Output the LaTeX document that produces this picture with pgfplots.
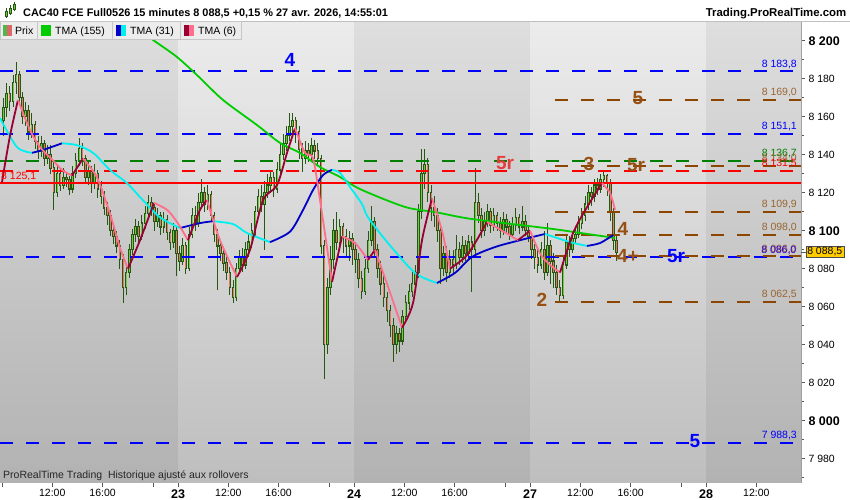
\documentclass[border=0pt]{standalone}
\usepackage{fontspec}
\setmainfont{Liberation Sans}
\usepackage{pgfplots}
\usepackage{pgfplotstable}
\pgfplotsset{compat=1.18}
\definecolor{cdk}{RGB}{38,88,20}
\definecolor{cup}{RGB}{110,205,60}
\definecolor{cdn}{RGB}{232,120,100}
\definecolor{tgreen}{RGB}{0,204,0}
\definecolor{tblue}{RGB}{0,0,200}
\definecolor{tcyan}{RGB}{0,240,240}
\definecolor{tdred}{RGB}{153,0,51}
\definecolor{tpink}{RGB}{255,110,140}
\definecolor{lblue}{RGB}{0,0,255}
\definecolor{lred}{RGB}{255,0,0}
\definecolor{lgreen}{RGB}{0,128,0}
\definecolor{lbrown}{RGB}{140,70,0}
\definecolor{tbrown}{RGB}{153,102,51}
\definecolor{bbrown}{RGB}{150,80,20}
\definecolor{bred}{RGB}{230,60,60}
\definecolor{bgdT}{RGB}{222,222,222}
\definecolor{bgdB}{RGB}{178,178,178}
\definecolor{bglT}{RGB}{236,236,236}
\definecolor{bglB}{RGB}{190,190,190}
\definecolor{pxg}{RGB}{76,184,76}
\definecolor{pxr}{RGB}{224,102,102}
\definecolor{ybox}{RGB}{255,204,0}
\newcommand\dl[1]{{\fontsize{12.5bp}{14bp}\selectfont\bfseries #1}}
\newcommand\bl[1]{{\fontsize{12.5bp}{14bp}\selectfont\bfseries #1}}
\pgfplotstableread{
i o h l c
0 8158 8170 8150 8165
1 8165 8178 8160 8172
2 8172 8176 8163 8168
3 8168 8182 8165 8178
4 8178 8189 8172 8182
5 8182 8184 8166 8170
6 8170 8173 8156 8160
7 8160 8168 8155 8163
8 8163 8166 8148 8152
9 8152 8162 8149 8156
10 8156 8158 8143 8147
11 8147 8150 8138 8142
12 8142 8150 8139 8146
13 8146 8148 8134 8138
14 8138 8145 8135 8140
15 8140 8145 8130 8133
16 8133 8136 8111 8120
17 8120 8134 8118 8130
18 8130 8133 8121 8124
19 8124 8133 8122 8128
20 8128 8131 8123 8127
21 8127 8129 8119 8122
22 8122 8134 8120 8130
23 8130 8141 8128 8137
24 8137 8149 8134 8143
25 8143 8146 8134 8138
26 8138 8140 8125 8128
27 8128 8136 8124 8131
28 8131 8134 8120 8125
29 8125 8135 8122 8130
30 8130 8132 8117 8122
31 8122 8126 8114 8118
32 8118 8121 8108 8112
33 8112 8115 8103 8108
34 8108 8111 8097 8100
35 8100 8104 8093 8097
36 8097 8100 8088 8092
37 8092 8095 8080 8085
38 8085 8088 8062 8070
39 8070 8083 8066 8078
40 8078 8093 8075 8090
41 8090 8101 8087 8098
42 8098 8106 8094 8102
43 8102 8105 8093 8097
44 8097 8108 8095 8104
45 8104 8113 8101 8109
46 8109 8119 8106 8115
47 8115 8118 8108 8112
48 8112 8114 8100 8105
49 8105 8112 8102 8108
50 8108 8110 8098 8102
51 8102 8110 8099 8106
52 8106 8108 8095 8099
53 8099 8101 8090 8094
54 8094 8104 8091 8100
55 8100 8102 8076 8088
56 8088 8092 8079 8084
57 8084 8096 8082 8092
58 8092 8094 8077 8080
59 8080 8102 8079 8098
60 8098 8112 8096 8108
61 8108 8113 8100 8104
62 8104 8120 8102 8115
63 8115 8127 8112 8120
64 8120 8123 8110 8114
65 8114 8124 8111 8119
66 8119 8121 8105 8108
67 8108 8110 8094 8098
68 8098 8101 8069 8092
69 8092 8095 8084 8088
70 8088 8091 8079 8083
71 8083 8087 8074 8078
72 8078 8081 8066 8070
73 8070 8074 8062 8065
74 8065 8083 8063 8080
75 8080 8090 8077 8086
76 8086 8091 8078 8082
77 8082 8094 8080 8090
78 8090 8098 8086 8094
79 8094 8104 8091 8100
80 8100 8113 8097 8110
81 8110 8122 8107 8118
82 8118 8124 8110 8114
83 8114 8126 8090 8120
84 8120 8130 8117 8124
85 8124 8132 8120 8128
86 8128 8131 8118 8122
87 8122 8136 8120 8132
88 8132 8146 8129 8140
89 8140 8151 8137 8146
90 8146 8155 8142 8150
91 8150 8162 8147 8155
92 8155 8162 8150 8158
93 8158 8160 8146 8152
94 8152 8155 8138 8143
95 8143 8146 8131 8138
96 8138 8147 8135 8142
97 8142 8146 8136 8140
98 8140 8149 8137 8145
99 8145 8148 8138 8142
100 8142 8146 8134 8138
101 8138 8140 8088 8092
102 8092 8095 8022 8040
103 8040 8075 8035 8070
104 8070 8092 8066 8085
105 8085 8106 8080 8100
106 8100 8110 8090 8094
107 8094 8106 8090 8102
108 8102 8104 8088 8097
109 8097 8101 8086 8092
110 8092 8100 8084 8096
111 8096 8099 8082 8090
112 8090 8094 8078 8085
113 8085 8088 8070 8075
114 8075 8079 8064 8068
115 8068 8085 8066 8080
116 8080 8100 8078 8095
117 8095 8113 8092 8105
118 8105 8107 8086 8090
119 8090 8093 8075 8080
120 8080 8084 8066 8072
121 8072 8076 8060 8065
122 8065 8068 8052 8058
123 8058 8061 8044 8050
124 8050 8054 8031 8040
125 8040 8050 8035 8046
126 8046 8049 8036 8042
127 8042 8058 8040 8055
128 8055 8066 8052 8062
129 8062 8072 8058 8068
130 8068 8078 8065 8072
131 8072 8082 8069 8078
132 8078 8114 8075 8110
133 8110 8143 8106 8130
134 8130 8143 8122 8135
135 8135 8138 8115 8120
136 8120 8124 8105 8112
137 8112 8118 8102 8108
138 8108 8112 8094 8100
139 8100 8102 8072 8080
140 8080 8092 8076 8088
141 8088 8092 8073 8078
142 8078 8090 8075 8085
143 8085 8090 8078 8082
144 8082 8098 8080 8090
145 8090 8094 8082 8086
146 8086 8097 8083 8092
147 8092 8095 8084 8088
148 8088 8098 8085 8094
149 8094 8097 8068 8090
150 8090 8133 8088 8115
151 8115 8120 8104 8108
152 8108 8112 8096 8100
153 8100 8110 8097 8105
154 8105 8114 8102 8110
155 8110 8112 8099 8103
156 8103 8112 8100 8108
157 8108 8110 8100 8104
158 8104 8107 8096 8100
159 8100 8110 8098 8106
160 8106 8109 8099 8102
161 8102 8105 8095 8098
162 8098 8107 8096 8103
163 8103 8112 8100 8107
164 8107 8109 8098 8102
165 8102 8113 8100 8105
166 8105 8108 8097 8100
167 8100 8103 8094 8097
168 8097 8098 8085 8090
169 8090 8093 8080 8086
170 8086 8090 8078 8082
171 8082 8094 8080 8090
172 8090 8100 8074 8078
173 8078 8104 8076 8092
174 8092 8095 8072 8084
175 8084 8088 8070 8078
176 8078 8082 8066 8070
177 8070 8074 8062.5 8066
178 8066 8086 8064 8082
179 8082 8098 8080 8094
180 8094 8097 8086 8090
181 8090 8100 8088 8096
182 8096 8102 8093 8098
183 8098 8108 8096 8104
184 8104 8112 8101 8108
185 8108 8118 8105 8114
186 8114 8124 8111 8120
187 8120 8123 8113 8118
188 8118 8127 8115 8124
189 8124 8128 8119 8122
190 8122 8130 8120 8127
191 8127 8131 8123 8129
192 8129 8130 8118 8125
193 8125 8127 8105 8110
194 8110 8112 8090 8095
195 8095 8098 8084 8088.5
}\candles
\begin{document}
\begin{tikzpicture}
\path[use as bounding box] (0,0) rectangle (850bp,500bp);
\fill[white] (0,0) rectangle (850bp,500bp);
\begin{axis}[
  at={(0bp,17.3bp)}, anchor=south west, scale only axis,
  width=801bp, height=461.7bp,
  xmin=-0.636, xmax=254.2, ymin=7967.37, ymax=8210.37,
  axis line style={draw=gray!60, line width=0.6bp},
  tick align=outside,
  xtick pos=bottom, ytick pos=right, yticklabel pos=right,
  xtick={0,16,32,48,56,72,88,104,112,128,144,160,168,184,200,216,224,240},
  xticklabels={,12:00,16:00,,\dl{23},12:00,16:00,,\dl{24},12:00,16:00,,\dl{27},12:00,16:00,,\dl{28},12:00},
  ytick={7980,8000,8020,8040,8060,8080,8100,8120,8140,8160,8180,8200},
  yticklabels={7 980,\bl{8 000},8 020,8 040,8 060,8 080,\bl{8 100},8 120,8 140,8 160,8 180,\bl{8 200}},
  minor ytick={7970,7990,8010,8030,8050,8070,8090,8110,8130,8150,8170,8190,8210},
  major tick length=4bp, minor tick length=3bp,
  tick style={draw=gray!70!black, line width=0.6bp},
  ticklabel style={font=\fontsize{10.5bp}{12bp}\selectfont, text=black},
  xticklabel style={inner ysep=1bp, yshift=-1.5bp},
]
% day bands
\fill[top color=bgdT, bottom color=bgdB] (axis cs:-1,7967.37) rectangle (axis cs:56,8210.37);
\fill[top color=bglT, bottom color=bglB] (axis cs:56,7967.37) rectangle (axis cs:112,8210.37);
\fill[top color=bgdT, bottom color=bgdB] (axis cs:112,7967.37) rectangle (axis cs:168,8210.37);
\fill[top color=bglT, bottom color=bglB] (axis cs:168,7967.37) rectangle (axis cs:224,8210.37);
\fill[top color=bgdT, bottom color=bgdB] (axis cs:224,7967.37) rectangle (axis cs:255,8210.37);
% candles: wicks
\addplot[forget plot, draw=none, mark=none, error bars/.cd, y dir=both, y explicit, error mark=none,
  error bar style={draw=cdk, line width=0.9bp, solid}]
  table[x expr=\thisrow{i}+0.5, y expr=0.5*(\thisrow{h}+\thisrow{l}), y error expr=0.5*(\thisrow{h}-\thisrow{l})]{\candles};
% bodies outline
\addplot[forget plot, draw=none, mark=none, error bars/.cd, y dir=both, y explicit, error mark=none,
  error bar style={draw=cdk, line width=2.6bp, solid}]
  table[x expr=\thisrow{i}+0.5, y expr=0.5*(\thisrow{o}+\thisrow{c}), y error expr=0.5*abs(\thisrow{c}-\thisrow{o})+0.35]{\candles};
% bodies fill up
\addplot[forget plot, draw=none, mark=none, restrict expr to domain={\thisrow{c}-\thisrow{o}}{0:1000},
  error bars/.cd, y dir=both, y explicit, error mark=none,
  error bar style={draw=cup, line width=1.0bp, solid}]
  table[x expr=\thisrow{i}+0.5, y expr=0.5*(\thisrow{o}+\thisrow{c}), y error expr={max(0.5*abs(\thisrow{c}-\thisrow{o})-0.25,0)}]{\candles};
% bodies fill down
\addplot[forget plot, draw=none, mark=none, restrict expr to domain={\thisrow{o}-\thisrow{c}}{0.001:1000},
  error bars/.cd, y dir=both, y explicit, error mark=none,
  error bar style={draw=cdn, line width=1.0bp, solid}]
  table[x expr=\thisrow{i}+0.5, y expr=0.5*(\thisrow{o}+\thisrow{c}), y error expr={max(0.5*abs(\thisrow{c}-\thisrow{o})-0.25,0)}]{\candles};
% horizontal levels
\pgfplotsset{lev/.style={line width=2bp, dash pattern=on 13bp off 13bp, forget plot}}
\addplot[lev, lblue] coordinates {(-0.636,8183.8) (254.2,8183.8)};
\addplot[lev, lblue] coordinates {(-0.636,8151.1) (254.2,8151.1)};
\addplot[lev, lgreen] coordinates {(-0.636,8136.7) (254.2,8136.7)};
\addplot[lev, lred] coordinates {(-0.636,8131.5) (254.2,8131.5)};
\addplot[lev, lblue] coordinates {(-0.636,8086.0) (254.2,8086.0)};
\addplot[lev, lblue] coordinates {(-0.636,7988.3) (254.2,7988.3)};
\addplot[lev, lbrown] coordinates {(175.9,8169.0) (254.2,8169.0)};
\addplot[lev, lbrown] coordinates {(175.9,8134.0) (254.2,8134.0)};
\addplot[lev, lbrown] coordinates {(175.9,8109.9) (254.2,8109.9)};
\addplot[lev, lbrown] coordinates {(175.9,8098.0) (254.2,8098.0)};
\addplot[lev, lbrown] coordinates {(175.9,8086.6) (254.2,8086.6)};
\addplot[lev, lbrown] coordinates {(175.9,8062.5) (254.2,8062.5)};
\addplot[forget plot, lred, line width=2bp] coordinates {(-0.636,8125.1) (254.2,8125.1)};
% TMA 155
\pgfplotsset{ma/.style={line width=1.8bp, smooth, tension=0.5, forget plot}}
\addplot[ma, tgreen] coordinates {(43.9,8205.6) (48.04,8200.4) (55.68,8191.4) (63,8180.4) (70.32,8168.8) (81.13,8155.6) (88.45,8146.2) (94.81,8140.9) (101.18,8133.5) (107.54,8128.3) (113.9,8121.9) (128.22,8112.5) (137.77,8109.8) (147.31,8106.7) (156.86,8104.6) (164.81,8103.0) (175.31,8100.9) (186.13,8098.3) (195.04,8096.2)};
% TMA 31
\addplot[ma, tcyan] coordinates {(-0.64,8159.3) (4.77,8144) (9.55,8141)};
\addplot[ma, tblue] coordinates {(9.55,8141) (13.04,8142.5) (19.09,8146)};
\addplot[ma, tcyan] coordinates {(19.09,8146) (23.86,8145) (28.95,8141) (34.36,8132) (39.77,8125) (44.86,8116) (50.27,8107) (56.63,8101.4)};
\addplot[ma, tblue] coordinates {(56.63,8101.4) (63,8104) (67.13,8105)};
\addplot[ma, tcyan] coordinates {(67.13,8105) (73.5,8103.5) (77.95,8098.8) (85.27,8094)};
\addplot[ma, tblue] coordinates {(85.27,8094) (91.63,8099.5) (95.77,8110.9) (98.95,8121.4) (102.13,8129.3) (105,8132)};
\addplot[ma, tcyan] coordinates {(105,8132) (107.54,8130.4) (110.72,8123) (114.54,8114) (116.45,8107) (122.81,8093.5) (131.4,8077.8) (138.4,8072.5)};
\addplot[ma, tblue] coordinates {(138.4,8072.5) (144.13,8077.8) (149.54,8086.2) (156.86,8091.4) (164.81,8095) (172.77,8098.3)};
\addplot[ma, tcyan] coordinates {(172.77,8098.3) (180.72,8094) (186.13,8092)};
\addplot[ma, tblue] coordinates {(186.13,8092) (190.26,8093.5) (194.4,8097.7)};
% TMA 6
\addplot[ma, tdred] coordinates {(0,8125.6) (2.55,8150) (5.09,8168.8)};
\addplot[ma, tpink] coordinates {(5.09,8168.8) (8.91,8153) (12.09,8144) (16.23,8137) (19.09,8132) (22.27,8129)};
\addplot[ma, tdred] coordinates {(22.27,8129) (25.77,8138)};
\addplot[ma, tpink] coordinates {(25.77,8138) (30.23,8128) (34.36,8109) (37.54,8091) (40.09,8080)};
\addplot[ma, tdred] coordinates {(40.09,8080) (43.91,8095) (48.36,8114.6)};
\addplot[ma, tpink] coordinates {(48.36,8114.6) (52.5,8111) (55.68,8104.6) (59.18,8095)};
\addplot[ma, tdred] coordinates {(59.18,8095) (63,8111) (65.22,8116)};
\addplot[ma, tpink] coordinates {(65.22,8116) (69.36,8095) (74.77,8075.6)};
\addplot[ma, tdred] coordinates {(74.77,8075.6) (78.91,8090) (83.04,8116) (87.5,8124) (90.68,8141) (93.22,8154)};
\addplot[ma, tpink] coordinates {(93.22,8154) (96.4,8141) (98.95,8138) (101.18,8116) (105,8073)};
\addplot[ma, tdred] coordinates {(105,8073) (108.18,8097)};
\addplot[ma, tpink] coordinates {(108.18,8097) (112.31,8093.5) (116.45,8084.6)};
\addplot[ma, tdred] coordinates {(116.45,8084.6) (118.68,8090)};
\addplot[ma, tpink] coordinates {(118.68,8090) (122.81,8070.5) (127.27,8049)};
\addplot[ma, tdred] coordinates {(127.27,8049) (130.77,8062) (133.63,8095) (136.81,8117)};
\addplot[ma, tpink] coordinates {(136.81,8117) (139.99,8100) (142.54,8080)};
\addplot[ma, tdred] coordinates {(142.54,8080) (147.31,8086) (150.49,8093.5) (154.31,8104.6)};
\addplot[ma, tpink] coordinates {(154.31,8104.6) (159.08,8100) (164.17,8095)};
\addplot[ma, tdred] coordinates {(164.17,8095) (168,8100)};
\addplot[ma, tpink] coordinates {(168,8100) (171.18,8088) (174.36,8082) (177.54,8078)};
\addplot[ma, tdred] coordinates {(177.54,8078) (181.67,8098.7) (186.13,8112.4) (190.9,8125)};
\addplot[ma, tpink] coordinates {(190.9,8125) (193.45,8119.8) (195.04,8111)};
\end{axis}
% overlay in pixel coordinates
\begin{scope}[yshift=500bp, x=1bp, y=-1bp]
\fill[white] (0,0) rectangle (850,21);
\draw[gray!50, line width=0.8bp] (0,21) -- (850,21);
% header icon
\draw[cdk, line width=0.8bp] (6,8) -- (6,18) (10,5) -- (10,15) (14,2) -- (14,11);
\fill[cup, draw=cdk, line width=0.5bp] (4.8,11) rectangle (7.2,16);
\fill[cup, draw=cdk, line width=0.5bp] (8.8,8) rectangle (11.2,13);
\fill[cup, draw=cdk, line width=0.5bp] (12.8,4) rectangle (15.2,9);
\node[anchor=base west, inner sep=0, font=\fontsize{10.9bp}{13bp}\selectfont\bfseries] at (23,16.3) {CAC40 FCE Full0526 15 minutes 8 088,5 +0,15 \% 27 avr. 2026, 14:55:01};
\node[anchor=base east, inner sep=0, font=\fontsize{11.4bp}{13bp}\selectfont\bfseries] at (846.5,16.3) {Trading.ProRealTime.com};
% legend strip
\foreach \a/\b in {0/37.3,37.3/112.7,112.7/180.7,180.7/241.7} {\fill[gray!15, draw=gray!45, line width=0.6bp] (\a,21.5) rectangle (\b,39.5);}
\fill[pxg] (2.7,25) rectangle (7.2,35.7);
\fill[pxr] (7.2,25) rectangle (11.7,35.7);
\fill[tgreen] (41,25) rectangle (51,35.7);
\fill[tblue] (116,25) rectangle (121,35.7);
\fill[tcyan] (121,25) rectangle (126,35.7);
\fill[tdred] (184,25) rectangle (189,35.7);
\fill[tpink] (189,25) rectangle (194,35.7);
\begin{scope}[every node/.style={anchor=base west, inner sep=0, font=\fontsize{10.5bp}{12bp}\selectfont}]
\node at (15,34.3) {Prix};
\node at (55,34.3) {TMA (155)};
\node at (130,34.3) {TMA (31)};
\node at (198,34.3) {TMA (6)};
\end{scope}
% big level labels
\begin{scope}[every node/.style={inner sep=0, font=\fontsize{19bp}{20bp}\selectfont\bfseries}]
\node[text=lblue] at (290,60) {4};
\node[text=bbrown] at (638,98) {5};
\node[text=bred] at (505,163) {5r};
\node[text=bbrown] at (589,164) {3};
\node[text=bbrown] at (636,165) {5r};
\node[text=bbrown] at (623,229) {4};
\node[text=bbrown] at (628,256) {4+};
\node[text=lblue] at (676,256) {5r};
\node[text=bbrown] at (542,300) {2};
\node[text=lblue] at (695,441) {5};
\end{scope}
% right value labels
\begin{scope}[every node/.style={anchor=base east, inner sep=0, font=\fontsize{10.5bp}{12bp}\selectfont}]
\node[text=lblue] at (797,67.5) {8 183,8};
\node[text=tbrown] at (797,95.6) {8 169,0};
\node[text=lblue] at (797,129.6) {8 151,1};
\node[text=lgreen] at (797,156.9) {8 136,7};
\node[text=tbrown] at (797,162) {8 134,0};
\node[text=lred] at (797,166.7) {8 131,5};
\node[text=tbrown] at (797,207.9) {8 109,9};
\node[text=tbrown] at (797,230.3) {8 098,0};
\node[text=tbrown] at (797,252.7) {8 086,0};
\node[text=lblue!80!red] at (796.5,253.3) {8 086,0};
\node[text=tbrown] at (797,297.7) {8 062,5};
\node[text=lblue] at (797,439) {7 988,3};
\end{scope}
\node[anchor=base west, inner sep=0, text=lred, font=\fontsize{10.5bp}{12bp}\selectfont] at (1,180) {8 125,1};
% current price box
\draw[gray!70!black, line width=0.6bp] (801,252) -- (806,252);
\node[fill=ybox, draw=black!70, line width=0.5bp, inner xsep=1.5bp, inner ysep=1bp, minimum height=11.5bp, font=\fontsize{10.5bp}{12bp}\selectfont, anchor=west] at (805.5,252) {8 088,5};
% bottom note
\node[anchor=base west, inner sep=0, text=black!85, font=\fontsize{10.5bp}{12bp}\selectfont] at (3,479) {ProRealTime Trading\ \ Historique ajusté aux rollovers};
\end{scope}
\end{tikzpicture}
\end{document}
